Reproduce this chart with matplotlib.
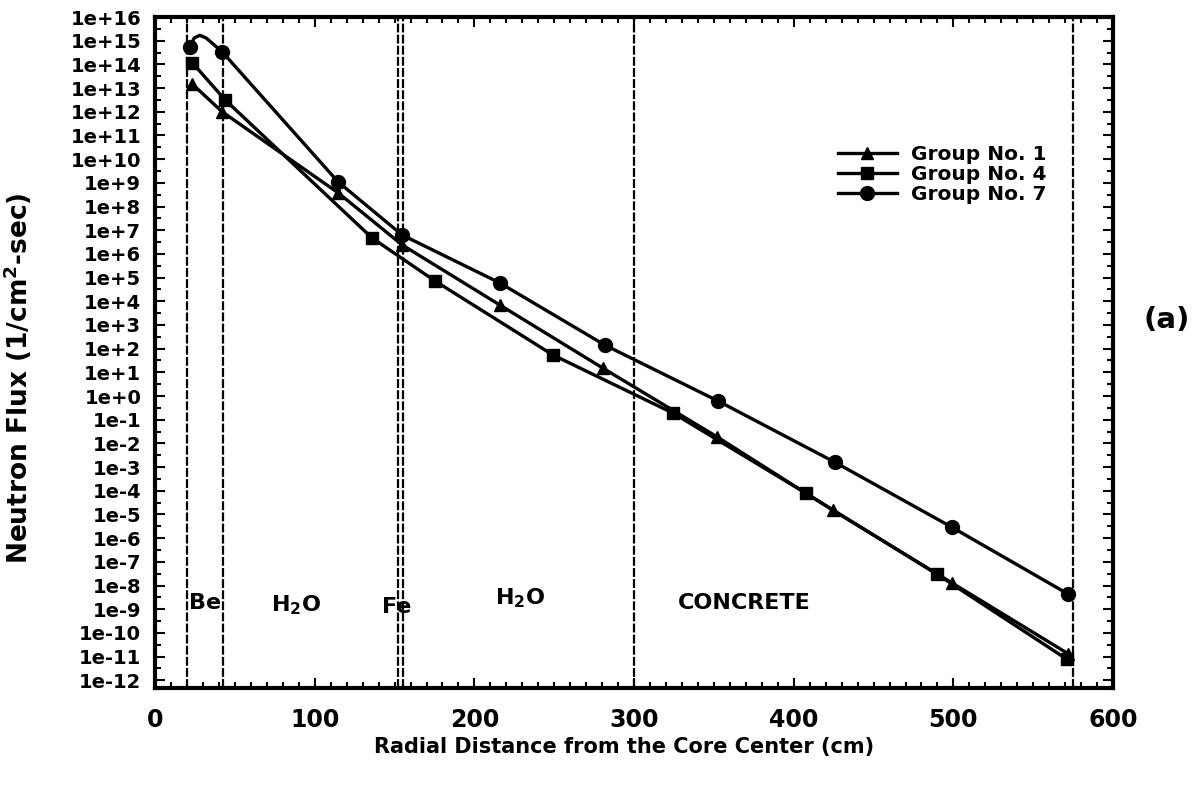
import numpy as np
import matplotlib.pyplot as plt
from matplotlib.ticker import LogLocator, MultipleLocator, FuncFormatter

plt.rcParams['font.family'] = ['DejaVu Sans']
plt.rcParams['font.weight'] = 'bold'
plt.rcParams['mathtext.default'] = 'bf'

# Group 1 (triangles)
x_g1 = [23.2, 42.0, 114.6, 154.7, 216.0, 280.5, 351.9, 424.5, 499.0, 572.0]
y_g1 = [1.5e13, 1.0e12, 3.8e8, 2.4e6, 6.9e3, 15, 1.9e-2, 1.5e-5, 1.3e-8, 1.3e-11]

# Group 4 (squares)
x_g4 = [23.2, 43.8, 135.9, 175.3, 249.2, 324.4, 407.6, 489.7, 571.0]
y_g4 = [1.2e14, 3.2e12, 4.7e6, 7.2e4, 54, 0.19, 7.9e-5, 3.0e-8, 7.8e-12]

# Group 7 (circles), vertices 1-3 are the unmarked bump of the curve
x_g7 = [21.9, 24.5, 28.0, 32.0, 42.0, 114.6, 154.7, 216.0, 281.8, 352.5, 425.8, 499.0, 572.0]
y_g7 = [5.5e14, 1.3e15, 1.7e15, 1.3e15, 3.4e14, 1.1e9, 6.3e6, 5.9e4, 1.4e2, 0.62, 1.6e-3, 2.9e-6, 4.3e-9]
g7_marked = [0, 4, 5, 6, 7, 8, 9, 10, 11, 12]

# region boundaries and labels
boundaries = [20, 42.5, 152, 155, 300, 575]
region_names = ['Be', 'H$_2$O', 'Fe', 'H$_2$O', 'CONCRETE']
region_x = [31, 88, 151.5, 228.5, 369]
region_y = [1.8e-9, 1.5e-9, 1.3e-9, 3.0e-9, 1.8e-9]

fig = plt.figure(figsize=(11.93, 7.92), dpi=100)
ax = fig.add_axes([0.13, 0.131, 0.803, 0.8475])

for b in boundaries:
    ax.axvline(b, color='black', lw=1.6, ls=(0, (4, 1)), zorder=1)

ax.plot(x_g1, y_g1, color='black', lw=2.4, marker='^', ms=9, label='Group No. 1', zorder=3)
ax.plot(x_g4, y_g4, color='black', lw=2.4, marker='s', ms=9, label='Group No. 4', zorder=3)
ax.plot(x_g7, y_g7, color='black', lw=2.4, marker='o', ms=10, markevery=g7_marked,
        label='Group No. 7', zorder=3)

for name, tx, ty in zip(region_names, region_x, region_y):
    ax.text(tx, ty, name, ha='center', va='center', fontsize=16, fontweight='bold')

ax.set_yscale('log')
ax.set_xlim(0, 600)
ax.set_ylim(4.6e-13, 1e16)

ax.xaxis.set_major_locator(MultipleLocator(100))
ax.xaxis.set_minor_locator(MultipleLocator(10))
ax.yaxis.set_major_locator(LogLocator(base=10, numticks=40))
ax.yaxis.set_minor_locator(LogLocator(base=10, subs=(3.16,), numticks=40))


def sci(v, pos):
    e = int(round(np.log10(v)))
    return f'1e+{e}' if e >= 0 else f'1e{e}'


ax.yaxis.set_major_formatter(FuncFormatter(sci))
ax.tick_params(which='both', direction='in', top=True, right=True, width=1.5)
ax.tick_params(which='major', length=7)
ax.tick_params(which='minor', length=4)
ax.tick_params(axis='y', which='major', pad=10, labelsize=14)
ax.tick_params(axis='x', which='major', pad=14, labelsize=17)
for lab in ax.get_xticklabels() + ax.get_yticklabels():
    lab.set_fontweight('bold')
for sp in ax.spines.values():
    sp.set_linewidth(3)

ax.set_xlabel('Radial Distance from the Core Center (cm)', fontsize=15, fontweight='bold')
ax.set_ylabel('Neutron Flux (1/cm$^2$-sec)', fontsize=19, fontweight='bold')
ax.xaxis.set_label_coords(0.49, -0.073)
ax.yaxis.set_label_coords(-0.126, 0.462)

ax.legend(loc='upper left', bbox_to_anchor=(0.713, 0.809), frameon=False,
          handlelength=2.9, handletextpad=0.7, labelspacing=0.05, borderpad=0,
          borderaxespad=0, prop={'weight': 'bold', 'size': 14.5})

fig.text(0.978, 0.596, '(a)', fontsize=21, fontweight='bold', ha='center', va='center')

fig.savefig('out.png', dpi=100)
